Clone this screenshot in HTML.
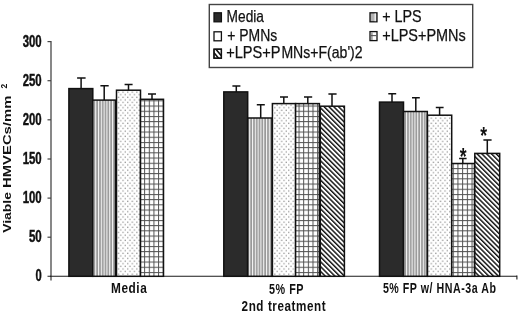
<!DOCTYPE html>
<html><head><meta charset="utf-8">
<style>
html,body{margin:0;padding:0;background:#fff;width:520px;height:312px;overflow:hidden}
svg{display:block;filter:blur(0.35px)}
text{font-family:"Liberation Sans",sans-serif;fill:#111}
.ax{font-weight:bold;font-size:16px}
.lg{font-size:16.5px}
</style></head>
<body>
<svg width="520" height="312" viewBox="0 0 520 312">
<defs>
<pattern id="vs" patternUnits="userSpaceOnUse" width="2.8" height="10" x="0" y="0">
<rect width="2.8" height="10" fill="#989898"/>
<rect width="1.1" height="10" fill="#f4f4f4"/>
</pattern>
<pattern id="dt" patternUnits="userSpaceOnUse" width="4.6" height="5.2" x="0" y="0">
<rect width="4.6" height="5.2" fill="#fff"/>
<rect x="0.5" y="0.5" width="1.3" height="1.3" fill="#999"/>
<rect x="2.8" y="3.1" width="1.3" height="1.3" fill="#999"/>
</pattern>
<pattern id="gr" patternUnits="userSpaceOnUse" width="4.65" height="5.2" x="144.15" y="1.55">
<rect width="4.65" height="5.2" fill="#fff"/>
<rect x="0" y="0" width="4.65" height="1" fill="#505050"/>
<rect x="0" y="0" width="1" height="5.2" fill="#505050"/>
</pattern>
<pattern id="gr2" patternUnits="userSpaceOnUse" width="4.65" height="5.2" x="298.55" y="1.55">
<rect width="4.65" height="5.2" fill="#fff"/>
<rect x="0" y="0" width="4.65" height="1" fill="#505050"/>
<rect x="0" y="0" width="1" height="5.2" fill="#505050"/>
</pattern>
<pattern id="gr3" patternUnits="userSpaceOnUse" width="4.7" height="5.2" x="457.45" y="1.55">
<rect width="4.7" height="5.2" fill="#fff"/>
<rect x="0" y="0" width="4.7" height="1" fill="#505050"/>
<rect x="0" y="0" width="1" height="5.2" fill="#505050"/>
</pattern>
<pattern id="dg" patternUnits="userSpaceOnUse" width="3.4" height="3.4" patternTransform="rotate(-45)">
<rect width="3.4" height="3.4" fill="#fff"/>
<rect width="1.45" height="3.4" fill="#111"/>
</pattern>
<clipPath id="lgc"><rect x="214" y="49.2" width="7.4" height="9"/></clipPath>
</defs>

<!-- axes -->
<g stroke="#6a6a6a" stroke-width="1.6" fill="none">
<line x1="51" y1="41" x2="51" y2="280.6"/>
</g>
<g stroke="#444" stroke-width="1.2">
<line x1="47.5" y1="41.6" x2="51" y2="41.6"/>
<line x1="47.5" y1="80.7" x2="51" y2="80.7"/>
<line x1="47.5" y1="119.8" x2="51" y2="119.8"/>
<line x1="47.5" y1="159" x2="51" y2="159"/>
<line x1="47.5" y1="198.1" x2="51" y2="198.1"/>
<line x1="47.5" y1="237.2" x2="51" y2="237.2"/>
<line x1="47.5" y1="276.3" x2="51" y2="276.3"/>
</g>
<g stroke="#1a1a1a" stroke-width="1.1">
<line x1="50" y1="276.3" x2="517" y2="276.3"/>
<line x1="516.9" y1="275.6" x2="516.9" y2="279.5"/>
</g>

<!-- y labels -->
<g class="ax" text-anchor="end" stroke="#111" stroke-width="0.45">
<text x="41.7" y="46.5" textLength="19" lengthAdjust="spacingAndGlyphs">300</text>
<text x="41.7" y="85.6" textLength="19" lengthAdjust="spacingAndGlyphs">250</text>
<text x="41.7" y="124.7" textLength="19" lengthAdjust="spacingAndGlyphs">200</text>
<text x="41.7" y="163.9" textLength="19" lengthAdjust="spacingAndGlyphs">150</text>
<text x="41.7" y="203.0" textLength="19" lengthAdjust="spacingAndGlyphs">100</text>
<text x="41.7" y="242.1" textLength="12.8" lengthAdjust="spacingAndGlyphs">50</text>
<text x="41.7" y="281.2" textLength="6.2" lengthAdjust="spacingAndGlyphs">0</text>
</g>

<!-- y title -->
<g transform="translate(10.9,232.8) rotate(-90)">
<text x="0" y="0" style="font-weight:bold;font-size:11px" textLength="40.8" lengthAdjust="spacingAndGlyphs">Viable</text>
<text x="44.8" y="0" style="font-weight:bold;font-size:11px" textLength="92.4" lengthAdjust="spacingAndGlyphs">HMVECs/mm</text>
<text x="144.2" y="-3.6" style="font-weight:bold;font-size:8.5px">2</text>
</g>

<!-- bars -->
<g stroke="#111" stroke-width="1.5">
<!-- group 1 -->
<rect x="68.9" y="88.6" width="23.9" height="187.7" fill="#2b2b2b"/>
<rect x="92.8" y="100.1" width="22.7" height="176.2" fill="url(#vs)"/>
<rect x="116.5" y="90.2" width="24" height="186.1" fill="url(#dt)"/>
<rect x="140.5" y="99.3" width="23" height="177" fill="url(#gr)"/>
<!-- group 2 -->
<rect x="223.8" y="91.9" width="23.9" height="184.4" fill="#2b2b2b"/>
<rect x="247.7" y="118" width="24.3" height="158.3" fill="url(#vs)"/>
<rect x="272.4" y="103.6" width="23.2" height="172.7" fill="url(#dt)"/>
<rect x="295.6" y="103.6" width="23.8" height="172.7" fill="url(#gr2)"/>
<rect x="320.3" y="106.2" width="24.1" height="170.1" fill="url(#dg)"/>
<!-- group 3 -->
<rect x="379.5" y="102.1" width="24" height="174.2" fill="#2b2b2b"/>
<rect x="403.5" y="111.5" width="23.8" height="164.8" fill="url(#vs)"/>
<rect x="427.5" y="115.2" width="24.2" height="161.1" fill="url(#dt)"/>
<rect x="451.7" y="163.5" width="22.8" height="112.8" fill="url(#gr3)"/>
<rect x="474.8" y="153.4" width="24.9" height="122.9" fill="url(#dg)"/>
</g>

<!-- error bars -->
<g stroke="#111" stroke-width="1.5" fill="none">
<path d="M81.1 88.6V78.1M77.1 78.1H85.6"/>
<path d="M104.2 100.1V85.8M100.4 85.8H108.7"/>
<path d="M128.5 90.2V84.4M124.6 84.4H132.6"/>
<path d="M152 99.3V94M148 94H156"/>
<path d="M236.3 91.9V86M232.4 86H240.4"/>
<path d="M260.7 118V104.8M256.8 104.8H264.8"/>
<path d="M283.8 103.6V96.9M280 96.9H288"/>
<path d="M307.8 103.6V96.9M304 96.9H312.2"/>
<path d="M332 106.2V93.9M328.4 93.9H336.6"/>
<path d="M392 102.1V93.8M388.3 93.8H396.2"/>
<path d="M415.8 111.5V97.7M412 97.7H419.8"/>
<path d="M439.6 115.2V107.4M435.8 107.4H443.6"/>
<path d="M462.8 163.5V158.6M459.1 158.6H466.6"/>
<path d="M487.3 153.4V140M483.4 140H491.6"/>
</g>

<!-- stars -->
<g style="font-weight:bold;font-size:20px" text-anchor="middle">
<text transform="translate(463.1,165.2) scale(0.88,1.15)">*</text>
<text transform="translate(483.6,143.6) scale(0.88,1.15)">*</text>
</g>

<!-- x labels -->
<g style="font-weight:bold;font-size:14.2px;letter-spacing:0.7px" text-anchor="start">
<text x="111" y="292.8" textLength="36.4" lengthAdjust="spacingAndGlyphs">Media</text>
<text x="269.1" y="293.6" textLength="35" lengthAdjust="spacingAndGlyphs">5% FP</text>
<text x="241.6" y="310.5" textLength="84.7" lengthAdjust="spacingAndGlyphs">2nd treatment</text>
<text x="382.9" y="293.1" textLength="113.6" lengthAdjust="spacingAndGlyphs">5% FP w/ HNA-3a Ab</text>
</g>

<!-- legend -->
<rect x="209.3" y="4.5" width="263.4" height="63" fill="#fff" stroke="#444" stroke-width="1.4"/>
<g stroke="#111" stroke-width="1.3">
<rect x="214" y="12.8" width="7.4" height="9" fill="#2b2b2b"/>
<rect x="214" y="31.8" width="7.4" height="9" fill="#fff"/>
<rect x="214" y="49.2" width="7.4" height="9" fill="#fff"/>
<g clip-path="url(#lgc)" stroke="#111" stroke-width="1.6"><path d="M212.37 45L226.50 62M207.56 45L221.69 62"/></g>
<rect x="214" y="49.2" width="7.4" height="9" fill="none"/>
<rect x="370" y="12.8" width="7" height="9" fill="#b2b2b2"/>
<rect x="374.6" y="13.4" width="1.2" height="7.8" fill="#fafafa" stroke="none"/>
<rect x="370" y="31.6" width="7" height="9" fill="#fff"/>
<path d="M371.9 32.3V39.9" stroke="#9a9a9a" stroke-width="1.6"/>
<path d="M370.6 35.6H376.4" stroke="#555" stroke-width="1.1"/>
</g>
<g class="lg" stroke="#111" stroke-width="0.25">
<text x="226.6" y="21.6" textLength="37.4" lengthAdjust="spacingAndGlyphs">Media</text>
<text x="227.2" y="41.1" textLength="50" lengthAdjust="spacingAndGlyphs">+ PMNs</text>
<text x="226.2" y="57.6" textLength="54.4" lengthAdjust="spacingAndGlyphs">+LPS+P</text>
<text x="281.4" y="57.6" textLength="81.2" lengthAdjust="spacingAndGlyphs">MNs+F(ab')2</text>
<text x="382.2" y="21.6" textLength="39.4" lengthAdjust="spacingAndGlyphs">+ LPS</text>
<text x="382.2" y="40.6" textLength="83.6" lengthAdjust="spacingAndGlyphs">+LPS+PMNs</text>
</g>
</svg>
</body></html>
